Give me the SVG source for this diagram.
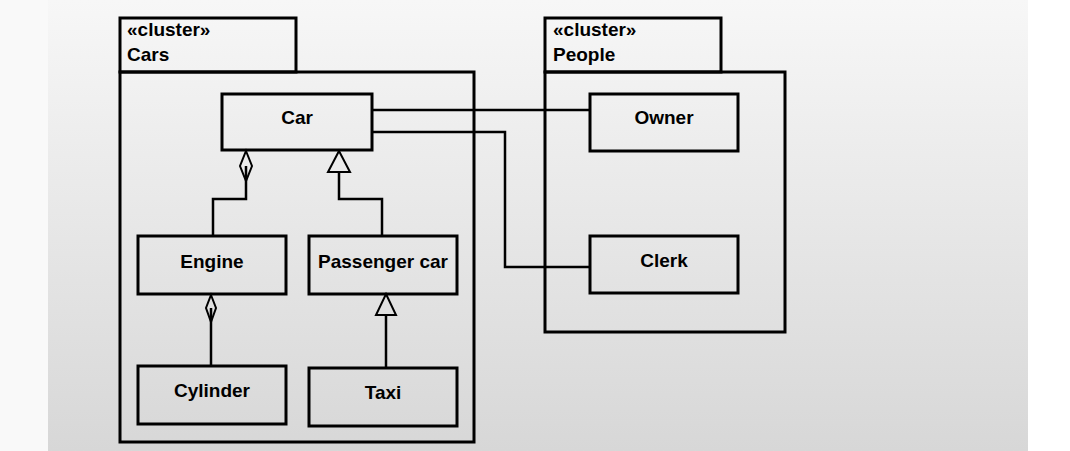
<svg xmlns="http://www.w3.org/2000/svg" width="1070" height="451" viewBox="0 0 1070 451">
<defs>
<linearGradient id="bg" x1="0" y1="0" x2="0" y2="1">
<stop offset="0" stop-color="#f7f7f7"/>
<stop offset="1" stop-color="#d7d7d7"/>
</linearGradient>
</defs>
<style>
.frame{fill:none;stroke:#000;stroke-width:3}
.box{fill:none;stroke:#000;stroke-width:3}
.line{fill:none;stroke:#000;stroke-width:2.5}
.head{fill:none;stroke:#000;stroke-width:2}
text{font-family:"Liberation Sans",Arial,sans-serif;font-weight:bold;font-size:19px;fill:#000}
.c{text-anchor:middle}
</style>
<rect x="0" y="0" width="1070" height="451" fill="#ffffff"/>
<rect x="0" y="0" width="48" height="451" fill="#f9f9f9"/>
<rect x="48" y="0" width="980" height="451" fill="url(#bg)"/>

<g id="cluster-cars">
<rect class="frame" x="120" y="18" width="176" height="54"/>
<rect class="frame" x="120" y="72" width="354" height="370"/>
<text x="127" y="36">«cluster»</text>
<text x="127" y="61">Cars</text>
</g>
<g id="cluster-people">
<rect class="frame" x="545" y="18" width="176" height="54"/>
<rect class="frame" x="545" y="72" width="240" height="260"/>
<text x="553" y="36">«cluster»</text>
<text x="553" y="61">People</text>
</g>

<g id="connectors">
<path class="line" d="M372 110 H590"/>
<path class="line" d="M372 132 H505 V267 H590"/>
<path class="line" d="M246 166 V199 H213 V236"/>
<polygon class="head" points="246,151 252,166 246,181 240,166"/>
<path class="line" d="M339 172 V199 H382 V236"/>
<polygon class="head" points="339,151 350,172 328,172"/>
<path class="line" d="M211 308 V366"/>
<polygon class="head" points="211,295 216,308 211,322 206,308"/>
<path class="line" d="M386 315 V368"/>
<polygon class="head" points="386,294 396,315 376,315"/>
</g>

<g id="car"><rect class="box" x="222" y="94" width="150" height="56"/><text class="c" x="297" y="124">Car</text></g>
<g id="engine"><rect class="box" x="138" y="236" width="148" height="58"/><text class="c" x="212" y="268">Engine</text></g>
<g id="passenger-car"><rect class="box" x="309" y="236" width="148" height="58"/><text class="c" x="383" y="268">Passenger car</text></g>
<g id="cylinder"><rect class="box" x="138" y="366" width="148" height="58"/><text class="c" x="212" y="397">Cylinder</text></g>
<g id="taxi"><rect class="box" x="309" y="368" width="148" height="58"/><text class="c" x="383" y="399">Taxi</text></g>
<g id="owner"><rect class="box" x="590" y="94" width="148" height="57"/><text class="c" x="664" y="124">Owner</text></g>
<g id="clerk"><rect class="box" x="590" y="236" width="148" height="57"/><text class="c" x="664" y="267">Clerk</text></g>
</svg>
